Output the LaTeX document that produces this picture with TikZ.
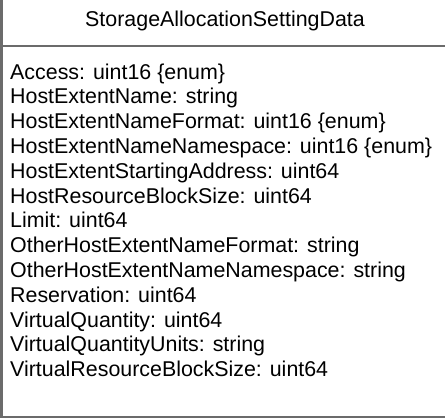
\documentclass[tikz,border=0pt]{standalone}
\usepackage{fontspec}
\setmainfont{Liberation Sans}
\usetikzlibrary{positioning}
\begin{document}
\begin{tikzpicture}[x=1bp, y=-1bp,
  border/.style={draw=black!58, line width=2bp},
  title/.style={anchor=base, inner sep=0pt, font=\fontsize{21.4bp}{25bp}\selectfont},
  attr/.style={anchor=base west, inner sep=0pt, font=\fontsize{21.4bp}{25bp}\selectfont}]
\useasboundingbox (0,0) rectangle (445,418);
\clip (0,0) rectangle (445,418);
% class box, top and right edges fall outside the frame
\coordinate (nw) at (1.5,-20);
\coordinate (se) at (449,416.5);
\draw[border] (nw) rectangle (se);
\coordinate (sepl) at (1.5,45.5);
\coordinate (sepr) at (449,45.5);
\draw[border] (sepl) -- (sepr);
\node[title] (name) at (225,26) {StorageAllocationSettingData};
% attributes
\foreach \txt [count=\i] in {
  {Access: uint16 \{enum\}},
  {HostExtentName: string},
  {HostExtentNameFormat: uint16 \{enum\}},
  {HostExtentNameNamespace: uint16 \{enum\}},
  {HostExtentStartingAddress: uint64},
  {HostResourceBlockSize: uint64},
  {Limit: uint64},
  {OtherHostExtentNameFormat: string},
  {OtherHostExtentNameNamespace: string},
  {Reservation: uint64},
  {VirtualQuantity: uint64},
  {VirtualQuantityUnits: string},
  {VirtualResourceBlockSize: uint64}}
  \node[attr] (a\i) at (10,{79+24.8*(\i-1)}) {\txt};
\end{tikzpicture}
\end{document}
